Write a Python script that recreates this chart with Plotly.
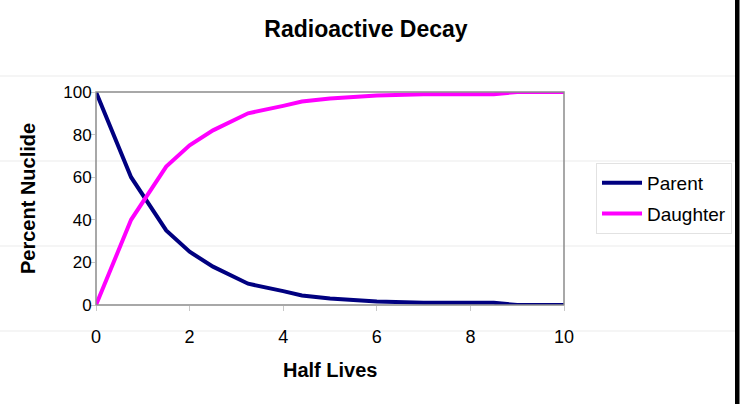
import plotly.graph_objects as go

# Half-lives elapsed and percentage of each nuclide
half_lives = [0, 0.75, 1.5, 2.0, 2.5, 3.0, 3.25, 4.0, 4.4, 5.0, 5.5, 6.0, 7.0, 8.0, 8.5, 9.0, 10.0]
parent = [100, 60, 35, 25, 18, 12.5, 10, 6.5, 4.5, 3, 2.3, 1.6, 1, 1, 1, 0, 0]
daughter = [0, 40, 65, 75, 82, 87.5, 90, 93.5, 95.5, 97, 97.7, 98.4, 99, 99, 99, 100, 100]

x_ticks = [0, 2, 4, 6, 8, 10]
y_ticks = [0, 20, 40, 60, 80, 100]

W, H = 740, 404
L, R, T, B = 96, 564, 92, 305  # plot area edges in pixels


def px_x(p):
    return (p - L) / (R - L)


def px_y(q):
    return (B - q) / (B - T)


fig = go.Figure()
fig.add_trace(go.Scatter(x=half_lives, y=parent, name="Parent", mode="lines",
                         legendgroup="p",
                         line=dict(color="#000080", width=4)))
fig.add_trace(go.Scatter(x=half_lives, y=daughter, name="Daughter", mode="lines",
                         legendgroup="d",
                         line=dict(color="#FF00FF", width=4)))

shapes = []
# faint sheet rows behind the chart
for q in [76, 161, 246, 331]:
    shapes.append(dict(type="line", xref="paper", yref="paper",
                       x0=px_x(0), x1=px_x(735), y0=px_y(q), y1=px_y(q),
                       line=dict(color="#ebebeb", width=1), layer="below"))
# dark edge on the right side
shapes.append(dict(type="rect", xref="paper", yref="paper",
                   x0=px_x(735), x1=px_x(739.5), y0=px_y(0), y1=px_y(404),
                   fillcolor="black", line=dict(width=0)))
# plot area frame
shapes.append(dict(type="rect", xref="paper", yref="paper",
                   x0=0, x1=1, y0=0, y1=1,
                   line=dict(color="#8c8c8c", width=1.5)))

font = "Liberation Sans, Arial, sans-serif"

fig.update_layout(
    width=W, height=H,
    margin=dict(l=L, r=W - R, t=T, b=H - B, pad=0, autoexpand=False),
    paper_bgcolor="white", plot_bgcolor="rgba(0,0,0,0)",
    font=dict(family=font, size=17, color="black"),
    title=dict(text="<b>Radioactive Decay</b>", x=366 / W, xanchor="center",
               y=1 - 29 / H, yanchor="middle",
               font=dict(family=font, size=23, color="black")),
    showlegend=True,
    legend=dict(x=px_x(596), y=px_y(163), xanchor="left", yanchor="top",
                xref="paper", yref="paper",
                bordercolor="#e2e2e2", borderwidth=1, bgcolor="white",
                font=dict(family=font, size=19, color="black"),
                itemwidth=40, tracegroupgap=3),
    shapes=shapes,
    annotations=[
        dict(text="<b>Half Lives</b>", xref="paper", yref="paper",
             x=px_x(330), y=px_y(370), showarrow=False,
             xanchor="center", yanchor="middle",
             font=dict(family=font, size=20, color="black")),
        dict(text="<b>Percent Nuclide</b>", xref="paper", yref="paper",
             x=px_x(28), y=px_y(199), showarrow=False, textangle=-90,
             xanchor="center", yanchor="middle",
             font=dict(family=font, size=20, color="black")),
    ],
)

fig.update_xaxes(range=[0, 10], tickvals=x_ticks, ticktext=[str(v) for v in x_ticks],
                 showgrid=False, zeroline=False, showline=False,
                 ticks="outside", ticklen=5, tickcolor="#c8c8c8", tickwidth=1,
                 ticklabelstandoff=10, tickfont=dict(size=18))
fig.update_yaxes(range=[0, 100], tickvals=y_ticks, ticktext=[str(v) for v in y_ticks],
                 showgrid=False, zeroline=False, showline=False,
                 ticks="outside", ticklen=5, tickcolor="#c8c8c8", tickwidth=1,
                 ticklabelstandoff=-5, tickfont=dict(size=17))

fig.write_html("out.html")
